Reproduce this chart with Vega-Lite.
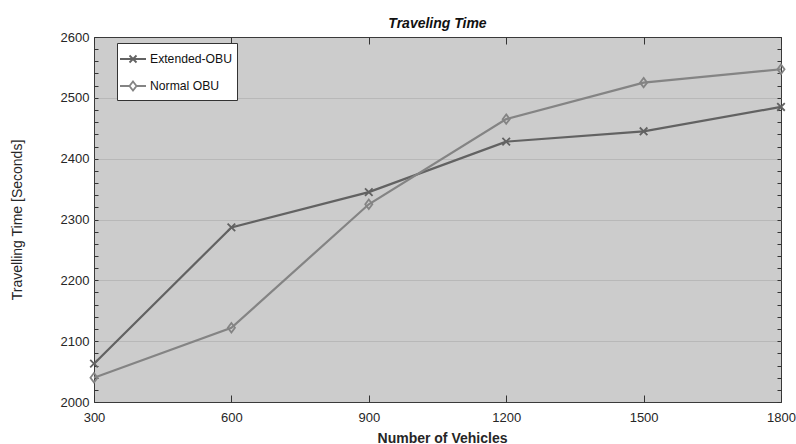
{
  "$schema": "https://vega.github.io/schema/vega-lite/v6.json",
  "width": 687,
  "height": 365,
  "autosize": {"type": "none"},
  "padding": {"left": 94, "top": 37, "right": 15, "bottom": 42},
  "background": "white",
  "title": {"text": "Traveling Time", "fontSize": 14, "fontWeight": "bold", "fontStyle": "italic", "color": "#111111", "anchor": "middle", "frame": "group", "baseline": "alphabetic", "offset": 11, "dy": 22},
  "data": {
    "values": [
      {"vehicles": 300, "time": 2063, "series": "Extended-OBU"},
      {"vehicles": 600, "time": 2287, "series": "Extended-OBU"},
      {"vehicles": 900, "time": 2345, "series": "Extended-OBU"},
      {"vehicles": 1200, "time": 2428, "series": "Extended-OBU"},
      {"vehicles": 1500, "time": 2445, "series": "Extended-OBU"},
      {"vehicles": 1800, "time": 2485, "series": "Extended-OBU"},
      {"vehicles": 300, "time": 2040, "series": "Normal OBU"},
      {"vehicles": 600, "time": 2122, "series": "Normal OBU"},
      {"vehicles": 900, "time": 2325, "series": "Normal OBU"},
      {"vehicles": 1200, "time": 2465, "series": "Normal OBU"},
      {"vehicles": 1500, "time": 2525, "series": "Normal OBU"},
      {"vehicles": 1800, "time": 2547, "series": "Normal OBU"}
    ]
  },
  "encoding": {
    "color": {
      "field": "series",
      "type": "nominal",
      "scale": {"domain": ["Extended-OBU", "Normal OBU"], "range": ["#626262", "#848484"]},
      "legend": {
        "orient": "none",
        "legendX": 23,
        "legendY": 6,
        "title": null,
        "fillColor": "white",
        "strokeColor": "#333333",
        "padding": 5,
        "rowPadding": 8,
        "symbolSize": 400,
        "labelOffset": 6,
        "labelFontSize": 12.2,
        "labelColor": "#111111",
        "symbolStrokeWidth": 1.8,
        "cornerRadius": 0,
        "encode": {
          "symbols": {
            "update": {
              "shape": {"signal": "datum.value === 'Extended-OBU' ? 'M-1.3,0H1.3M-0.35,-0.35L0.35,0.35M-0.35,0.35L0.35,-0.35' : 'M-1.3,0H-0.35M0.35,0H1.3M0,-0.45L0.35,0L0,0.45L-0.35,0Z'"},
              "fill": {"value": "transparent"}
            }
          }
        }
      }
    }
  },
  "layer": [
    {
      "mark": {"type": "line", "strokeWidth": 2.2},
      "encoding": {
        "x": {
          "field": "vehicles", "type": "quantitative",
          "scale": {"domain": [300, 1800], "nice": false, "zero": false},
          "axis": {
            "orient": "bottom",
            "values": [300, 600, 900, 1200, 1500, 1800],
            "format": "d",
            "title": "Number of Vehicles",
            "titleFontSize": 14,
            "titleFontWeight": "bold",
            "titleX": 348,
            "titleY": 40,
            "titleBaseline": "alphabetic",
            "titleAlign": "center",
            "labelFontSize": 13,
            "labelPadding": 16,
            "tickSize": -7,
            "labelFlush": false,
            "labelOverlap": false,
            "grid": false,
            "domain": false
          }
        },
        "y": {
          "field": "time", "type": "quantitative",
          "scale": {"domain": [2000, 2600], "nice": false, "zero": false},
          "axis": {
            "orient": "left",
            "values": [2000, 2020, 2040, 2060, 2080, 2100, 2120, 2140, 2160, 2180, 2200, 2220, 2240, 2260, 2280, 2300, 2320, 2340, 2360, 2380, 2400, 2420, 2440, 2460, 2480, 2500, 2520, 2540, 2560, 2580, 2600],
            "format": "d",
            "labelExpr": "datum.value % 100 === 0 ? datum.label : ''",
            "labelFontSize": 13,
            "labelPadding": 9,
            "tickSize": -4,
            "labelOverlap": false,
            "labelFlush": false,
            "grid": true,
            "gridColor": {"condition": {"test": "datum.value % 100 === 0 && datum.value > 2000 && datum.value < 2600", "value": "#b8b8b8"}, "value": "transparent"},
            "gridWidth": 1,
            "domain": false,
            "title": "Travelling Time [Seconds]",
            "titleFontSize": 14,
            "titleFontWeight": "normal",
            "titleX": -77,
            "titleY": 182.5,
            "titleAngle": -90,
            "titleBaseline": "middle",
            "titleAlign": "center"
          }
        }
      }
    },
    {
      "transform": [{"filter": "datum.series === 'Extended-OBU'"}],
      "mark": {"type": "point", "filled": false, "strokeWidth": 1.8, "size": 90, "opacity": 1, "shape": "M-0.8,-0.8L0.8,0.8M-0.8,0.8L0.8,-0.8"},
      "encoding": {
        "x": {
          "field": "vehicles", "type": "quantitative",
          "scale": {"domain": [300, 1800], "nice": false, "zero": false},
          "axis": {"orient": "top", "values": [300, 600, 900, 1200, 1500, 1800], "labels": false, "tickSize": -7, "grid": false, "domain": false, "title": null}
        },
        "y": {
          "field": "time", "type": "quantitative",
          "scale": {"domain": [2000, 2600], "nice": false, "zero": false},
          "axis": {
            "orient": "right",
            "values": [2000, 2020, 2040, 2060, 2080, 2100, 2120, 2140, 2160, 2180, 2200, 2220, 2240, 2260, 2280, 2300, 2320, 2340, 2360, 2380, 2400, 2420, 2440, 2460, 2480, 2500, 2520, 2540, 2560, 2580, 2600],
            "labels": false, "tickSize": -4, "grid": false, "domain": false, "title": null
          }
        }
      }
    },
    {
      "transform": [{"filter": "datum.series === 'Normal OBU'"}],
      "mark": {"type": "point", "filled": false, "strokeWidth": 1.8, "size": 90, "opacity": 1, "shape": "M0,-1L0.75,0L0,1L-0.75,0Z"},
      "encoding": {
        "x": {
          "field": "vehicles", "type": "quantitative",
          "scale": {"domain": [300, 1800], "nice": false, "zero": false},
          "axis": null
        },
        "y": {
          "field": "time", "type": "quantitative",
          "scale": {"domain": [2000, 2600], "nice": false, "zero": false},
          "axis": null
        }
      }
    }
  ],
  "resolve": {"axis": {"x": "independent", "y": "independent"}},
  "config": {
    "font": "Liberation Sans",
    "view": {"fill": "#cccccc", "stroke": "#3a3a3a", "strokeWidth": 1},
    "axis": {"tickColor": "#333333", "labelColor": "#262626", "titleColor": "#262626", "tickWidth": 1}
  }
}
